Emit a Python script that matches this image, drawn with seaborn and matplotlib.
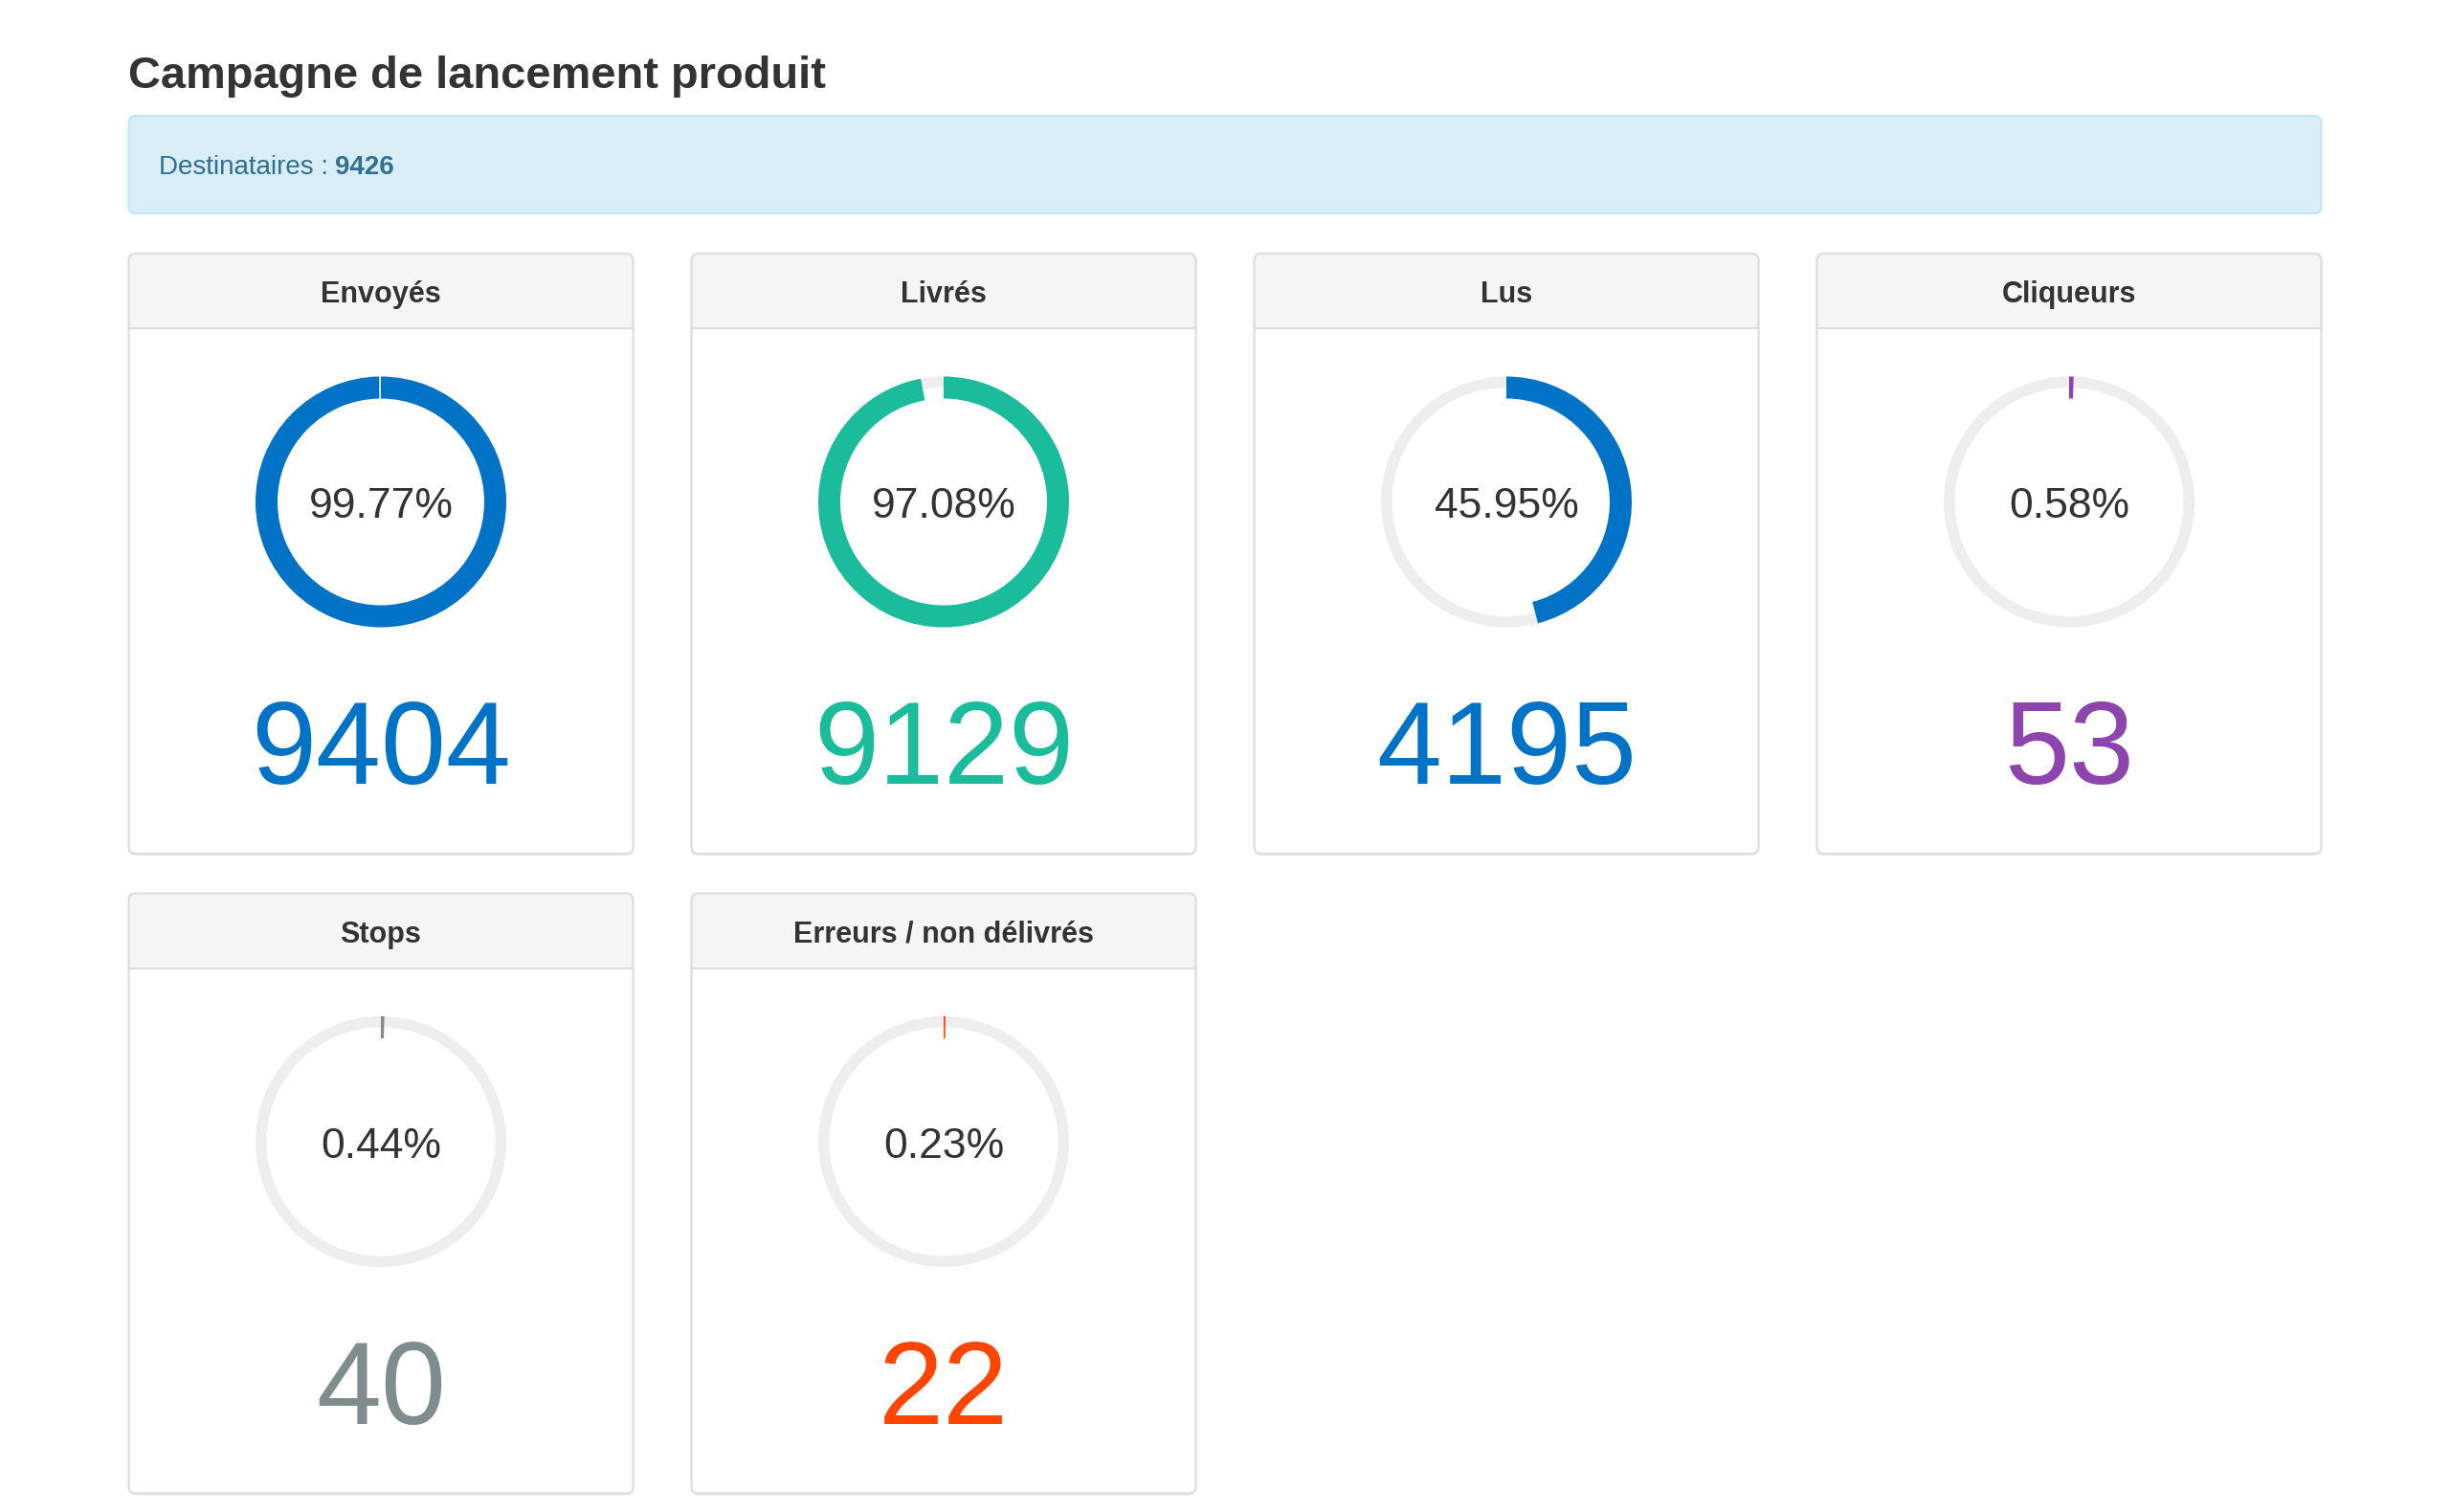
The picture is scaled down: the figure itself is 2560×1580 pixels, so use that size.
import matplotlib
matplotlib.use("Agg")
import matplotlib.pyplot as plt
import seaborn as sns
from matplotlib.patches import FancyBboxPatch, Rectangle

# ---------------- data ----------------
title = "Campagne de lancement produit"
recipients_label = "Destinataires :"
recipients_total = 9426
labels = ["Envoyés", "Livrés", "Lus", "Cliqueurs", "Stops", "Erreurs / non délivrés"]
counts = [9404, 9129, 4195, 53, 40, 22]
percents = [99.77, 97.08, 45.95, 0.58, 0.44, 0.23]
colors = ["#0073c6", "#1abc9c", "#0073c6", "#8e44ad", "#7f8c8d", "#ff4500"]

# ---------------- style ----------------
sns.set_theme(style="white")
plt.rcParams["font.family"] = ["Liberation Sans", "DejaVu Sans"]

W, H = 2560, 1580
DPI = 100
fig = plt.figure(figsize=(W / DPI, H / DPI), dpi=DPI, facecolor="white")
bg = fig.add_axes([0, 0, 1, 1])
bg.set_xlim(0, W)
bg.set_ylim(H, 0)
bg.axis("off")

TXT = "#333333"
BORDER = "#dddddd"

# title
bg.text(134, 92, title, fontsize=33.8, fontweight="bold", color=TXT,
        ha="left", va="baseline")

# info bar
info_l, info_t, info_r, info_b = 134.5, 121, 2425.5, 223
bg.add_patch(FancyBboxPatch((info_l, info_t), info_r - info_l, info_b - info_t,
                            boxstyle="round,pad=0,rounding_size=7",
                            facecolor="#d9edf7", edgecolor="#bce8f1", lw=1.5, zorder=1))
t1 = bg.text(166, 182, recipients_label, fontsize=20, color="#31708f",
             ha="left", va="baseline", zorder=2)
fig.canvas.draw()
r = fig.canvas.get_renderer()
ext = t1.get_window_extent(renderer=r)
bg.text(166 + ext.width + 7, 182, str(recipients_total), fontsize=20,
        fontweight="bold", color="#31708f", ha="left", va="baseline", zorder=2)

# cards layout
card_lefts = [134.5, 722.5, 1310.5, 1898.5]
card_w = 527
card_tops = [265, 933.5]
card_h = 627
head_h = 78
R = 131.0          # outer radius of donut in px
ring_dy = 259.5    # ring centre below card top

for i, (lab, cnt, pct, col) in enumerate(zip(labels, counts, percents, colors)):
    row, c = divmod(i, 4)
    x0 = card_lefts[c]
    y0 = card_tops[row]
    cx = x0 + card_w / 2
    # card body
    bg.add_patch(FancyBboxPatch((x0, y0 + 2), card_w, card_h, boxstyle="round,pad=0,rounding_size=7",
                                facecolor="#e9e9e9", edgecolor="none", zorder=0.5))
    bg.add_patch(FancyBboxPatch((x0, y0), card_w, card_h, boxstyle="round,pad=0,rounding_size=7",
                                facecolor="white", edgecolor="none", zorder=1))
    # header
    bg.add_patch(FancyBboxPatch((x0, y0), card_w, head_h + 12, boxstyle="round,pad=0,rounding_size=7",
                                facecolor="#f5f5f5", edgecolor="none", zorder=2))
    bg.add_patch(Rectangle((x0 + 1, y0 + head_h), card_w - 2, 14, facecolor="white",
                           edgecolor="none", zorder=3))
    bg.plot([x0, x0 + card_w], [y0 + head_h, y0 + head_h], color=BORDER, lw=1.5, zorder=4)
    bg.add_patch(FancyBboxPatch((x0, y0), card_w, card_h, boxstyle="round,pad=0,rounding_size=7",
                                facecolor="none", edgecolor=BORDER, lw=1.6, zorder=5))
    bg.text(cx, y0 + 51, lab, fontsize=22, fontweight="bold", color=TXT,
            ha="center", va="baseline", zorder=6)

    # donut
    cy = y0 + ring_dy
    ax = fig.add_axes([(cx - R) / W, 1 - (cy + R) / H, 2 * R / W, 2 * R / H])
    ax.pie([1], radius=1, colors=["#eeeeee"], startangle=90,
           wedgeprops=dict(width=11.5 / R, edgecolor="none", linewidth=0))
    ax.pie([pct, 100 - pct], radius=1, colors=[col, "none"], startangle=90,
           counterclock=False, wedgeprops=dict(width=23 / R, edgecolor="none", linewidth=0))
    ax.set_xlim(-1, 1)
    ax.set_ylim(-1, 1)
    ax.set_aspect("equal")
    ax.axis("off")

    bg.text(cx, cy + 16.5, f"{pct:.2f}%", fontsize=32, color=TXT,
            ha="center", va="baseline", zorder=6)
    bg.text(cx, cy + 295, f"{cnt}", fontsize=88, color=col,
            ha="center", va="baseline", zorder=6)

fig.savefig("out.png", dpi=DPI, facecolor="white")
